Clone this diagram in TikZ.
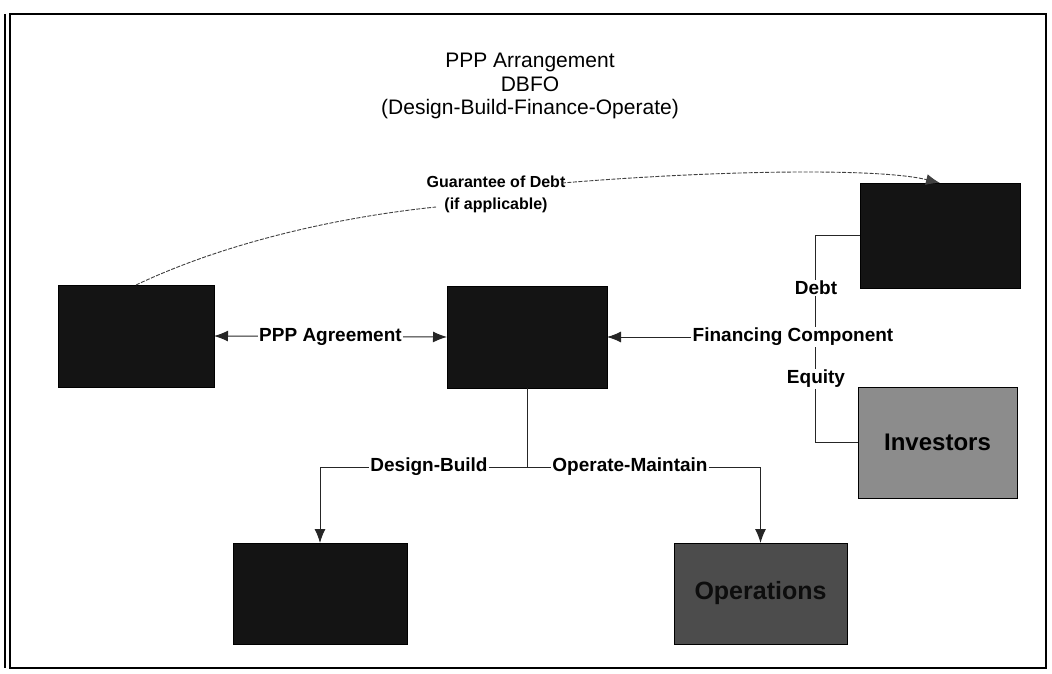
\documentclass[tikz,border=0pt]{standalone}
\usepackage{fontspec}
\setmainfont{Liberation Sans}
\usetikzlibrary{arrows.meta}
\begin{document}
\begin{tikzpicture}[x=1pt,y=-1pt,
  box/.style={draw=black, line width=0.8pt, fill=black!92, inner sep=0pt, outer sep=0pt},
  conn/.style={draw=black!85, line width=1pt},
  tip/.style={-{Latex[length=14pt,width=11pt]}},
  lbl/.style={fill=white, inner sep=1.5pt, font=\bfseries\fontsize{19}{22}\selectfont},
  guarline/.style={draw=black!75, line width=0.9pt, dash pattern=on 4pt off 1.5pt}]
\useasboundingbox (0,0) rectangle (1052,674);
% frame
\draw[line width=2pt] (10,14) -- (1046,14) -- (1046,668) -- (10,668) -- cycle;
\draw[line width=1.5pt] (5,14) -- (5,668);
% title
\node[align=center, font=\fontsize{21}{23.5}\selectfont] (title) at (530,86)
  {PPP Arrangement\\DBFO\\(Design-Build-Finance-Operate)};
% boxes
\node[box, minimum width=156pt, minimum height=102pt] (public) at (136,336) {};
\node[box, minimum width=160pt, minimum height=102pt] (spv) at (527,337) {};
\node[box, minimum width=160pt, minimum height=105pt] (lenders) at (940,235.5) {};
\node[box, fill=black!45, minimum width=159pt, minimum height=111pt,
      font=\bfseries\fontsize{24}{26}\selectfont] (investors) at (937.5,442.5) {Investors};
\node[box, minimum width=174pt, minimum height=101pt] (design) at (320,593.5) {};
\node[box, fill=black!70, text=black!95, minimum width=173pt, minimum height=101pt,
      font=\bfseries\fontsize{25}{27}\selectfont] (ops) at (760.5,593.5) {Operations};
% PPP agreement
\draw[conn, {Latex[length=14pt,width=11pt]}-{Latex[length=14pt,width=11pt]}] (public.east) -- (spv.west);
\node[lbl] (pppa) at (330.5,337) {PPP Agreement};
% financing bracket
\coordinate (bx) at (815,337);
\draw[conn] (lenders.west) -- (lenders.west -| bx) -- (investors.west -| bx) -- (investors.west);
\draw[conn, tip] (bx) -- (spv.east);
\node[lbl] (debt) at (816,288) {Debt};
\node[lbl] (equity) at (816,379) {Equity};
\node[lbl] (fin) at (793,337) {Financing Component};
% design-build / operate-maintain
\coordinate (jn) at (527,467);
\draw[conn] (spv.south) -- (jn);
\draw[conn, tip] (jn) -| (design.north);
\draw[conn, tip] (jn) -| (ops.north);
\node[lbl] (db) at (429,467) {Design-Build};
\node[lbl] (om) at (630,467) {Operate-Maintain};
% guarantee of debt
\node[align=center, inner sep=1pt, font=\bfseries\fontsize{16}{22}\selectfont] (guar) at (496,194)
  {Guarantee of Debt\\(if applicable)};
\coordinate (g1) at (436,207);
\coordinate (g2) at (562,183);
\draw[guarline] (public.north) .. controls (220,245) and (330,218) .. (g1);
\draw[guarline, -{Latex[length=14pt,width=11pt]}] (g2) .. controls (720,170) and (880,168) .. (lenders.north);
\end{tikzpicture}
\end{document}
